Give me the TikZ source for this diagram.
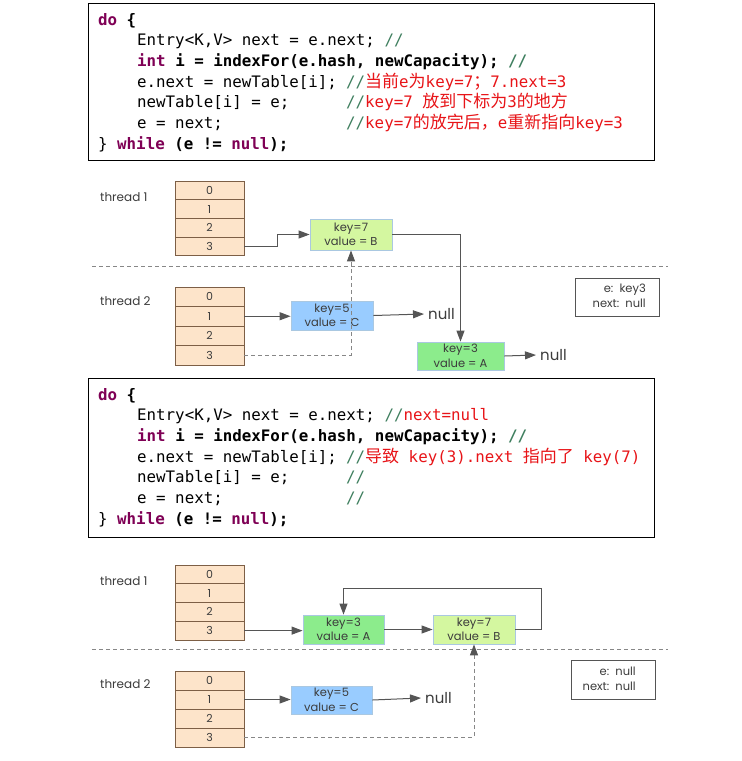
\documentclass[tikz,border=0pt]{standalone}
\usepackage{fontspec}
\usetikzlibrary{arrows.meta}
\newfontfamily\codefont{DejaVu Sans Mono}
\newfontfamily\cjkfont{Noto Sans CJK SC}
\newfontfamily\diagfont{Poppins}

\definecolor{kwcol}{RGB}{127,0,85}
\definecolor{cmtg}{RGB}{63,127,95}
\definecolor{cmtr}{RGB}{232,20,24}
\definecolor{cellfill}{RGB}{253,228,202}
\definecolor{cellline}{RGB}{125,95,70}
\definecolor{nodeline}{RGB}{170,200,225}
\definecolor{fillB}{RGB}{212,247,160}
\definecolor{fillA}{RGB}{140,236,140}
\definecolor{fillC}{RGB}{153,204,255}
\definecolor{ink}{RGB}{60,60,60}
\definecolor{wire}{RGB}{85,85,85}
\definecolor{dashcol}{RGB}{135,135,135}

% Chinese text inside the code comments
\newcommand\zh[1]{{\cjkfont\fontsize{17}{17}\selectfont #1}}
% Java keywords
\newcommand\kwd[1]{\textcolor{kwcol}{\bfseries #1}}
\newcommand\cmt{\textcolor{cmtg}{//}}

\begin{document}
\begin{tikzpicture}[x=1pt,y=-1pt,
  codebox/.style={draw=black, line width=1pt, inner sep=0pt},
  code/.style={anchor=base west, inner sep=0pt, font=\codefont\fontsize{15.8}{20}\selectfont},
  cell/.style={draw=cellline, fill=cellfill, line width=0.8pt, minimum width=69pt,
    inner sep=0pt, text=ink, font=\diagfont\fontsize{11}{11}\selectfont},
  kv/.style={draw=nodeline, line width=0.8pt, inner sep=0pt, align=center, text=ink,
    font=\diagfont\fontsize{11.5}{14.5}\selectfont},
  label/.style={anchor=west, inner sep=0pt, text=ink, font=\diagfont\fontsize{12}{12}\selectfont},
  nulltext/.style={anchor=west, inner sep=0pt, inner xsep=4pt, text=ink,
    font=\diagfont\fontsize{15}{15}\selectfont},
  infobox/.style={draw=wire, line width=0.8pt, inner sep=0pt},
  infotext/.style={anchor=east, inner sep=0pt, align=right, text=ink,
    font=\diagfont\fontsize{11.5}{15}\selectfont},
  conn/.style={draw=wire, line width=1pt, -{Triangle[length=11pt,width=8pt]}},
  dconn/.style={draw=dashcol, line width=1pt, dash pattern=on 4pt off 3pt,
    -{Triangle[length=11pt,width=8pt,color=wire,fill=wire]}},
  sepline/.style={draw=dashcol, line width=1pt, dash pattern=on 4pt off 3pt},
]
\fill[white] (0,0) rectangle (742,761);
\useasboundingbox (0,0) rectangle (742,761);

% ---------------- first code block ----------------
\node[codebox, minimum width=566pt, minimum height=157pt] (box1) at (371,81.5) {};
\node[code] (a0) at (98,25) {\kwd{do} \textbf{\{}};
\node[code] (a1) at (137,45.7) {Entry<K,V> next = e.next; \cmt};
\node[code] (a2) at (137,66.4) {\bfseries\kwd{int} i = indexFor(e.hash, newCapacity); \cmt};
\node[code] (a3) at (137,87.1) {e.next = newTable[i];};
\node[code] (a3c) at (346,87.1) {\cmt\textcolor{cmtr}{\zh{当前}e\zh{为}key=7\zh{；}7.next=3}};
\node[code] (a4) at (137,107.8) {newTable[i] = e;};
\node[code] (a4c) at (346,107.8) {\cmt\textcolor{cmtr}{key=7 \zh{放到下标为}3\zh{的地方}}};
\node[code] (a5) at (137,128.5) {e = next;};
\node[code] (a5c) at (346,128.5) {\cmt\textcolor{cmtr}{key=7\zh{的放完后，}e\zh{重新指向}key=3}};
\node[code] (a6) at (98,149.2) {\} \kwd{while} \textbf{(e != }\kwd{null}\textbf{);}};

% ---------------- first diagram ----------------
\node[label] (th1a) at (100,197) {thread 1};
\node[label] (th2a) at (100,301) {thread 2};
\foreach \k in {0,...,3}
  \node[cell, minimum height=18.7pt] (ta\k) at (209.5,{181+(\k+0.5)*18.7}) {\k};
\foreach \k in {0,...,3}
  \node[cell, minimum height=19.5pt] (tb\k) at (209.5,{287+(\k+0.5)*19.5}) {\k};

\node[kv, fill=fillB, minimum width=82pt, minimum height=31pt] (kb1) at (351,234.5) {key=7\\value = B};
\node[kv, fill=fillA, minimum width=87pt, minimum height=28pt] (ka1) at (460.5,356) {key=3\\value = A};
\node[kv, fill=fillC, minimum width=82pt, minimum height=29pt] (kc1) at (332,315.5) {key=5\\value = C};
\node[nulltext] (na1) at (424,314) {null};
\node[nulltext] (na2) at (536,355) {null};

\draw[sepline] (92,266) -- (668,266);

\node[infobox, minimum width=84pt, minimum height=38pt] (info1) at (617,297) {};
\node[infotext] (info1t) at (646,296) {e:\ \ key3\\next:\ \ null};

\draw[conn] (ta3.east) -- ++(33,0) |- (kb1.west);
\draw[conn] (kb1.east) -| (ka1.north);
\draw[conn] (ka1.east) -- (na2.west);
\draw[conn] (tb1.east) -- (tb1.east -| kc1.west);
\draw[conn] (kc1.east) -- (na1.west);
\draw[dconn] (tb3.east) -| (kb1.south);

% ---------------- second code block ----------------
\node[codebox, minimum width=566pt, minimum height=159pt] (box2) at (371,457.5) {};
\node[code] (b0) at (98,400) {\kwd{do} \textbf{\{}};
\node[code] (b1) at (137,420.7) {Entry<K,V> next = e.next; \cmt\textcolor{cmtr}{next=null}};
\node[code] (b2) at (137,441.4) {\bfseries\kwd{int} i = indexFor(e.hash, newCapacity); \cmt};
\node[code] (b3) at (137,462.1) {e.next = newTable[i];};
\node[code] (b3c) at (346,462.1) {\cmt\textcolor{cmtr}{\zh{导致} key(3).next \zh{指向了} key(7)}};
\node[code] (b4) at (137,482.8) {newTable[i] = e;};
\node[code] (b4c) at (346,482.8) {\cmt};
\node[code] (b5) at (137,503.5) {e = next;};
\node[code] (b5c) at (346,503.5) {\cmt};
\node[code] (b6) at (98,524.2) {\} \kwd{while} \textbf{(e != }\kwd{null}\textbf{);}};

% ---------------- second diagram ----------------
\node[label] (th1b) at (100,581) {thread 1};
\node[label] (th2b) at (100,684) {thread 2};
\foreach \k in {0,...,3}
  \node[cell, minimum height=18.75pt] (tc\k) at (209.5,{565+(\k+0.5)*18.75}) {\k};
\foreach \k in {0,...,3}
  \node[cell, minimum height=19pt] (td\k) at (209.5,{671+(\k+0.5)*19}) {\k};

\node[kv, fill=fillA, minimum width=81pt, minimum height=29pt] (ka2) at (343.5,629.5) {key=3\\value = A};
\node[kv, fill=fillB, minimum width=82pt, minimum height=29pt] (kb2) at (474,629.5) {key=7\\value = B};
\node[kv, fill=fillC, minimum width=81pt, minimum height=28pt] (kc2) at (331.5,700) {key=5\\value = C};
\node[nulltext] (nb1) at (421,698) {null};

\draw[sepline] (92,649) -- (668,649);

\node[infobox, minimum width=84pt, minimum height=39pt] (info2) at (613,679.5) {};
\node[infotext] (info2t) at (636,679) {e:\ \ null\\next:\ \ null};

\coordinate (loopc) at (541,588);
\draw[conn] (tc3.east) -- (tc3.east -| ka2.west);
\draw[conn] (ka2.east) -- (kb2.west);
\draw[conn] (kb2.east) -| (loopc) -| (ka2.north);
\draw[conn] (td1.east) -- (td1.east -| kc2.west);
\draw[conn] (kc2.east) -- (nb1.west);
\draw[dconn] (td3.east) -| (kb2.south);
\end{tikzpicture}
\end{document}
